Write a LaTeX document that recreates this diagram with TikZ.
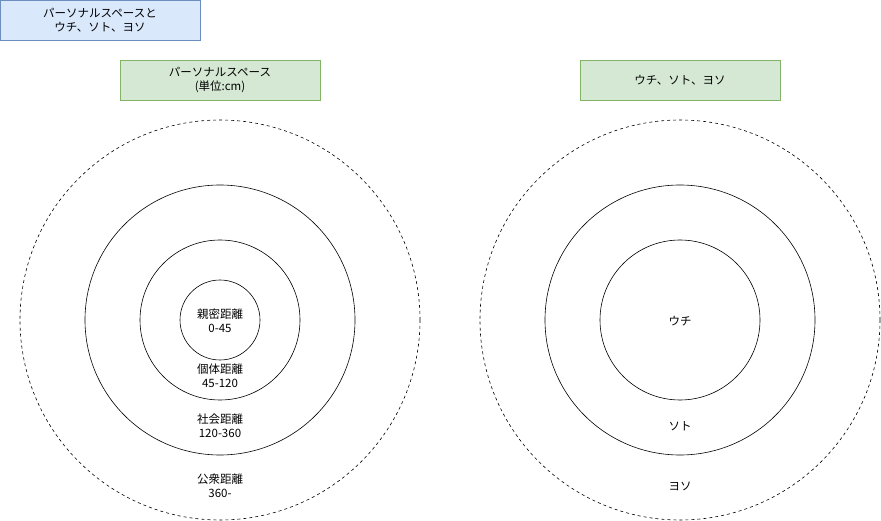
\documentclass[tikz,border=0pt]{standalone}
\usepackage{fontspec}
\setmainfont{Noto Sans CJK JP}
\usetikzlibrary{positioning,shapes}
\definecolor{bluefill}{HTML}{DAE8FC}
\definecolor{bluedraw}{HTML}{6C8EBF}
\definecolor{greenfill}{HTML}{D5E8D4}
\definecolor{greendraw}{HTML}{82B366}
\tikzstyle{titlebox} = [draw=greendraw,fill=greenfill,align=center,minimum width=200pt,minimum height=40pt,inner sep=0pt]
\tikzstyle{ring} = [draw,circle,inner sep=0pt]
\tikzstyle{label} = [align=center,inner sep=0pt]

\begin{document}
\begin{tikzpicture}[x=1pt,y=-1pt,font=\fontsize{11.5}{14}\selectfont,semithick]
			\useasboundingbox (0,0) rectangle (881,521);

			\node[draw=bluedraw,fill=bluefill,align=center,
			minimum width=200pt,minimum height=40pt,inner sep=0pt,
			] (title) at (100,20) {パーソナルスペースと\\ウチ、ソト、ヨソ};

			\node[titlebox] (headleft) at (220,80) {パーソナルスペース\\(単位:cm)};
			\node[titlebox] (headright) at (680,80) {ウチ、ソト、ヨソ};

			% left circles
			\node[ring,dashed,minimum size=400pt] (public) at (220,320) {};
			\node[ring,minimum size=270pt] (social) at (220,320) {};
			\node[ring,minimum size=160pt] (personal) at (220,320) {};
			\node[ring,minimum size=80pt] (intimate) at (220,320) {};

			\node[label] (intimatetext) at (220,321) {親密距離\\0-45};
			\node[label] (personaltext) at (220,376) {個体距離\\45-120};
			\node[label] (socialtext) at (220,426) {社会距離\\120-360};
			\node[label] (publictext) at (220,486) {公衆距離\\360-};

			% right circles
			\node[ring,dashed,minimum size=400pt] (yoso) at (680,320) {};
			\node[ring,minimum size=270pt] (soto) at (680,320) {};
			\node[ring,minimum size=160pt] (uchi) at (680,320) {};

			\node[label] (uchitext) at (680,321) {ウチ};
			\node[label] (sototext) at (680,426) {ソト};
			\node[label] (yosotext) at (680,486) {ヨソ};
		\end{tikzpicture}
\end{document}
